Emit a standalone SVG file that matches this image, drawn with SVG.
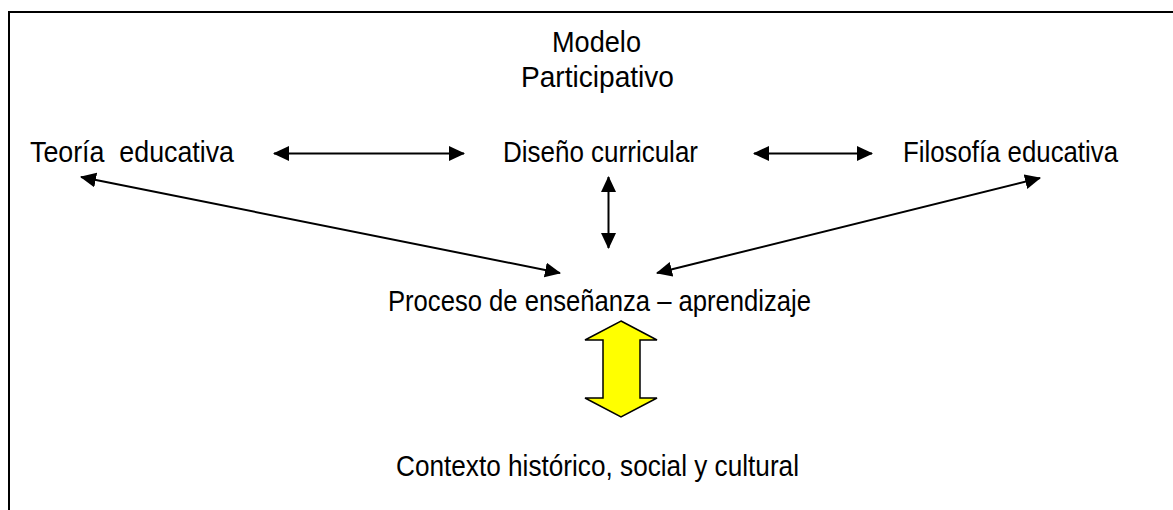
<svg xmlns="http://www.w3.org/2000/svg" width="1173" height="510" viewBox="0 0 1173 510">
<style>
text{font-family:"Liberation Sans Narrow","Liberation Sans",Arial,sans-serif;font-size:29px;fill:#000}
.c{stroke:#000;stroke-width:2;fill:none}
</style>
<defs>
<marker id="ah" markerUnits="userSpaceOnUse" markerWidth="16" markerHeight="15" refX="15" refY="7.5" orient="auto-start-reverse" viewBox="0 0 16 15">
<path d="M0,0 L16,7.5 L0,15 z" fill="#000"/>
</marker>
</defs>
<rect x="0" y="0" width="1173" height="510" fill="#fff"/>
<path d="M9,512 L9,12 L1175,12" fill="none" stroke="#000" stroke-width="2"/>
<g id="modelo">
<text x="552" y="52" textLength="89" lengthAdjust="spacingAndGlyphs">Modelo</text>
<text x="521" y="87" textLength="153" lengthAdjust="spacingAndGlyphs">Participativo</text>
</g>
<g id="teoria"><text x="30" y="162" textLength="204" lengthAdjust="spacingAndGlyphs" xml:space="preserve">Teoría  educativa</text></g>
<g id="diseno"><text x="503" y="162" textLength="195" lengthAdjust="spacingAndGlyphs">Diseño curricular</text></g>
<g id="filosofia"><text x="903" y="162" textLength="215" lengthAdjust="spacingAndGlyphs">Filosofía educativa</text></g>
<g id="proceso"><text x="388" y="311" textLength="423" lengthAdjust="spacingAndGlyphs">Proceso de enseñanza – aprendizaje</text></g>
<g id="contexto"><text x="396" y="476" textLength="403" lengthAdjust="spacingAndGlyphs">Contexto histórico, social y cultural</text></g>
<g id="connectors">
<line class="c" x1="274" y1="153.5" x2="464" y2="153.5" marker-start="url(#ah)" marker-end="url(#ah)"/>
<line class="c" x1="754" y1="153.5" x2="872" y2="153.5" marker-start="url(#ah)" marker-end="url(#ah)"/>
<line class="c" x1="608.5" y1="177" x2="608.5" y2="248" marker-start="url(#ah)" marker-end="url(#ah)"/>
<line class="c" x1="81" y1="177" x2="560" y2="273" marker-start="url(#ah)" marker-end="url(#ah)"/>
<line class="c" x1="657" y1="273" x2="1040" y2="178" marker-start="url(#ah)" marker-end="url(#ah)"/>
<path id="yellow-arrow" d="M621,321 L657,340 L640,340 L640,398 L657,398 L621,417 L585,398 L603,398 L603,340 L585,340 z" fill="#ffff00" stroke="#000" stroke-width="1.5" stroke-linejoin="miter"/>
</g>
</svg>
